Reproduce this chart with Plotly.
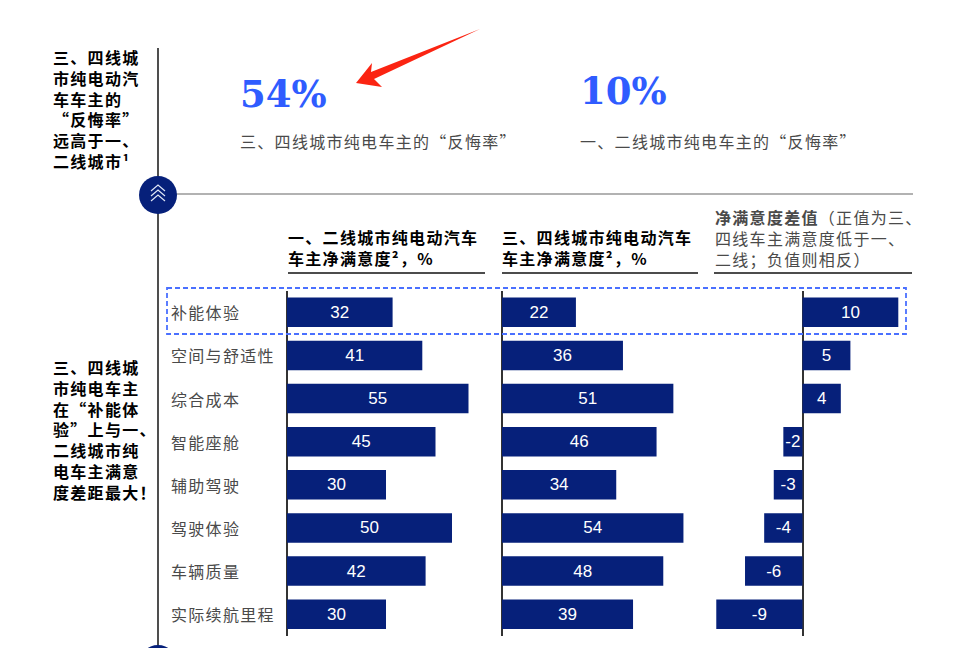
"""
plot.py

Satisfaction bars for pure electric car owners by city tier.
"""

import plotly.graph_objects as go

W = 960
H = 648

FONT = "Liberation Sans, Noto Sans CJK SC, sans-serif"
CJK_FONT = "Noto Sans CJK SC, Liberation Sans, sans-serif"
NAVY = "#06207a"
BLUE = "#2f5cff"
GREY = "#4a4a4a"

categories = ["补能体验", "空间与舒适性", "综合成本", "智能座舱",
              "辅助驾驶", "驾驶体验", "车辆质量", "实际续航里程"]
tier12_values = [32, 41, 55, 45, 30, 50, 42, 30]
tier34_values = [22, 36, 51, 46, 34, 54, 48, 39]
diff_values = [10, 5, 4, -2, -3, -4, -6, -9]

big_numbers = ["54%", "10%"]
big_captions = ["三、四线城市纯电车主的“反悔率”", "一、二线城市纯电车主的“反悔率”"]

side_note_top = ["三、四线城", "市纯电动汽", "车车主的", "“反悔率”", "远高于一、", "二线城市¹"]
side_note_bottom = ["三、四线城", "市纯电车主", "在“补能体", "验”上与一、", "二线城市纯", "电车主满意", "度差距最大！"]

header_tier12 = ["一、二线城市纯电动汽车", "车主净满意度²，%"]
header_tier34 = ["三、四线城市纯电动汽车", "车主净满意度²，%"]
header_diff = ["<b>净满意度差值</b>（正值为三、", "四线车主满意度低于一、", "二线；负值则相反）"]


def px_x(x):
    return x / W


def px_y(y):
    return 1 - y / H


def spaced(text, spacing):
    return f'<span style="letter-spacing:{spacing}px">{text}</span>'


def text_note(x, y, lines, size=16, color="#000000", bold=False, spacing=1.3, family=CJK_FONT):
    # y is the middle of the whole block, in pixels from the top
    text = "<br>".join(spaced(line, spacing) for line in lines)
    return dict(x=px_x(x - 2), y=px_y(y), xref="paper", yref="paper", text=text,
                showarrow=False, xanchor="left", yanchor="middle", align="left",
                font=dict(size=size, color=color, family=family,
                          weight=700 if bold else 400))


def bar_trace(values, xaxis):
    return go.Bar(x=values, y=categories, orientation="h", xaxis=xaxis, yaxis="y",
                  marker=dict(color=NAVY, line=dict(width=0)),
                  text=[str(v) for v in values], textposition="inside",
                  insidetextanchor="middle", textangle=0, constraintext="none",
                  textfont=dict(color="#ffffff", size=17, family=FONT),
                  hoverinfo="x+y", showlegend=False)


def bar_xaxis(left, right, zero, px_per_unit):
    return dict(domain=[px_x(left), px_x(right)],
                range=[(left - zero) / px_per_unit, (right - zero) / px_per_unit],
                anchor="y", showgrid=False, showticklabels=False, ticks="",
                zeroline=True, zerolinecolor="#333333", zerolinewidth=1.5)


def chevron(cx, cy, half_w=7, rise=6):
    return (f"M{px_x(cx - half_w)},{px_y(cy + rise)} L{px_x(cx)},{px_y(cy)} "
            f"L{px_x(cx + half_w)},{px_y(cy + rise)}")


fig = go.Figure([bar_trace(tier12_values, "x"),
                 bar_trace(tier34_values, "x2"),
                 bar_trace(diff_values, "x3")])

annotations = [
    text_note(53, 109, side_note_top, bold=True),
    text_note(53, 429, side_note_bottom, bold=True),
    text_note(288, 248, header_tier12, bold=True),
    text_note(502, 248, header_tier34, bold=True),
    text_note(715, 238, header_diff, color=GREY),
]

for number, caption, x, y in zip(big_numbers, big_captions, [240, 580], [94, 91]):
    annotations.append(text_note(x, y, [number], size=37, color=BLUE, bold=True, spacing=0,
                                 family="DejaVu Serif, serif"))
    annotations.append(text_note(x, 141, [caption], color=GREY))

for cat in categories:
    annotations.append(dict(x=px_x(169), y=cat, xref="paper", yref="y",
                            text=spaced(cat, 1.3), showarrow=False, xanchor="left",
                            yanchor="middle", font=dict(size=16, color=GREY, family=CJK_FONT)))

line_style = dict(type="line", xref="paper", yref="paper")
shapes = [
    dict(line_style, x0=px_x(158), x1=px_x(158), y0=px_y(48), y1=px_y(648),
         line=dict(color="#222222", width=1.6)),
    dict(line_style, x0=px_x(158), x1=px_x(913), y0=px_y(194), y1=px_y(194),
         line=dict(color="#666666", width=1.2)),
]
for left, right in [(288, 485), (502, 698), (714, 912)]:
    shapes.append(dict(line_style, x0=px_x(left), x1=px_x(right), y0=px_y(273), y1=px_y(273),
                       line=dict(color="#111111", width=1.6)))

# highlight box around the first row
shapes.append(dict(type="rect", xref="paper", yref="paper", x0=px_x(167), x1=px_x(906),
                   y0=px_y(288), y1=px_y(334),
                   line=dict(color="#4a70ff", width=1.8, dash="5px,3px")))

# section badges on the vertical rule
for cy in [195, 664]:
    shapes.append(dict(type="circle", xref="paper", yref="paper", fillcolor=NAVY,
                       x0=px_x(139), x1=px_x(177), y0=px_y(cy + 19), y1=px_y(cy - 19),
                       line=dict(color=NAVY, width=0)))
for cy in [185, 190, 195]:
    shapes.append(dict(type="path", xref="paper", yref="paper", path=chevron(158, cy),
                       line=dict(color="#dfe6f5", width=1.2)))

# red arrow pointing at the 54%
arrow_px = [(356, 83), (372, 63), (371, 72), (480, 29), (374, 79), (382, 87)]
arrow_path = "M" + " L".join(f"{px_x(x)},{px_y(y)}" for x, y in arrow_px) + " Z"
shapes.append(dict(type="path", xref="paper", yref="paper", path=arrow_path,
                   fillcolor="#fb2412", line=dict(width=0)))

fig.update_layout(
    width=W, height=H, autosize=False,
    margin=dict(l=0, r=0, t=0, b=0),
    paper_bgcolor="#ffffff", plot_bgcolor="#ffffff",
    font=dict(family=FONT),
    bargap=0.316,
    xaxis=bar_xaxis(287, 485, 287, 3.3),
    xaxis2=bar_xaxis(502, 698, 502, 3.36),
    xaxis3=bar_xaxis(714, 912, 802.5, 9.58),
    yaxis=dict(domain=[px_y(635.7), px_y(290.7)], categoryorder="array", categoryarray=categories,
               autorange="reversed", showticklabels=False, ticks="", showgrid=False,
               zeroline=False, showline=False, anchor="x"),
    annotations=annotations,
    shapes=shapes,
)

fig.write_html("out.html", config={"displayModeBar": False},
               post_script="document.body.style.margin='0';")
